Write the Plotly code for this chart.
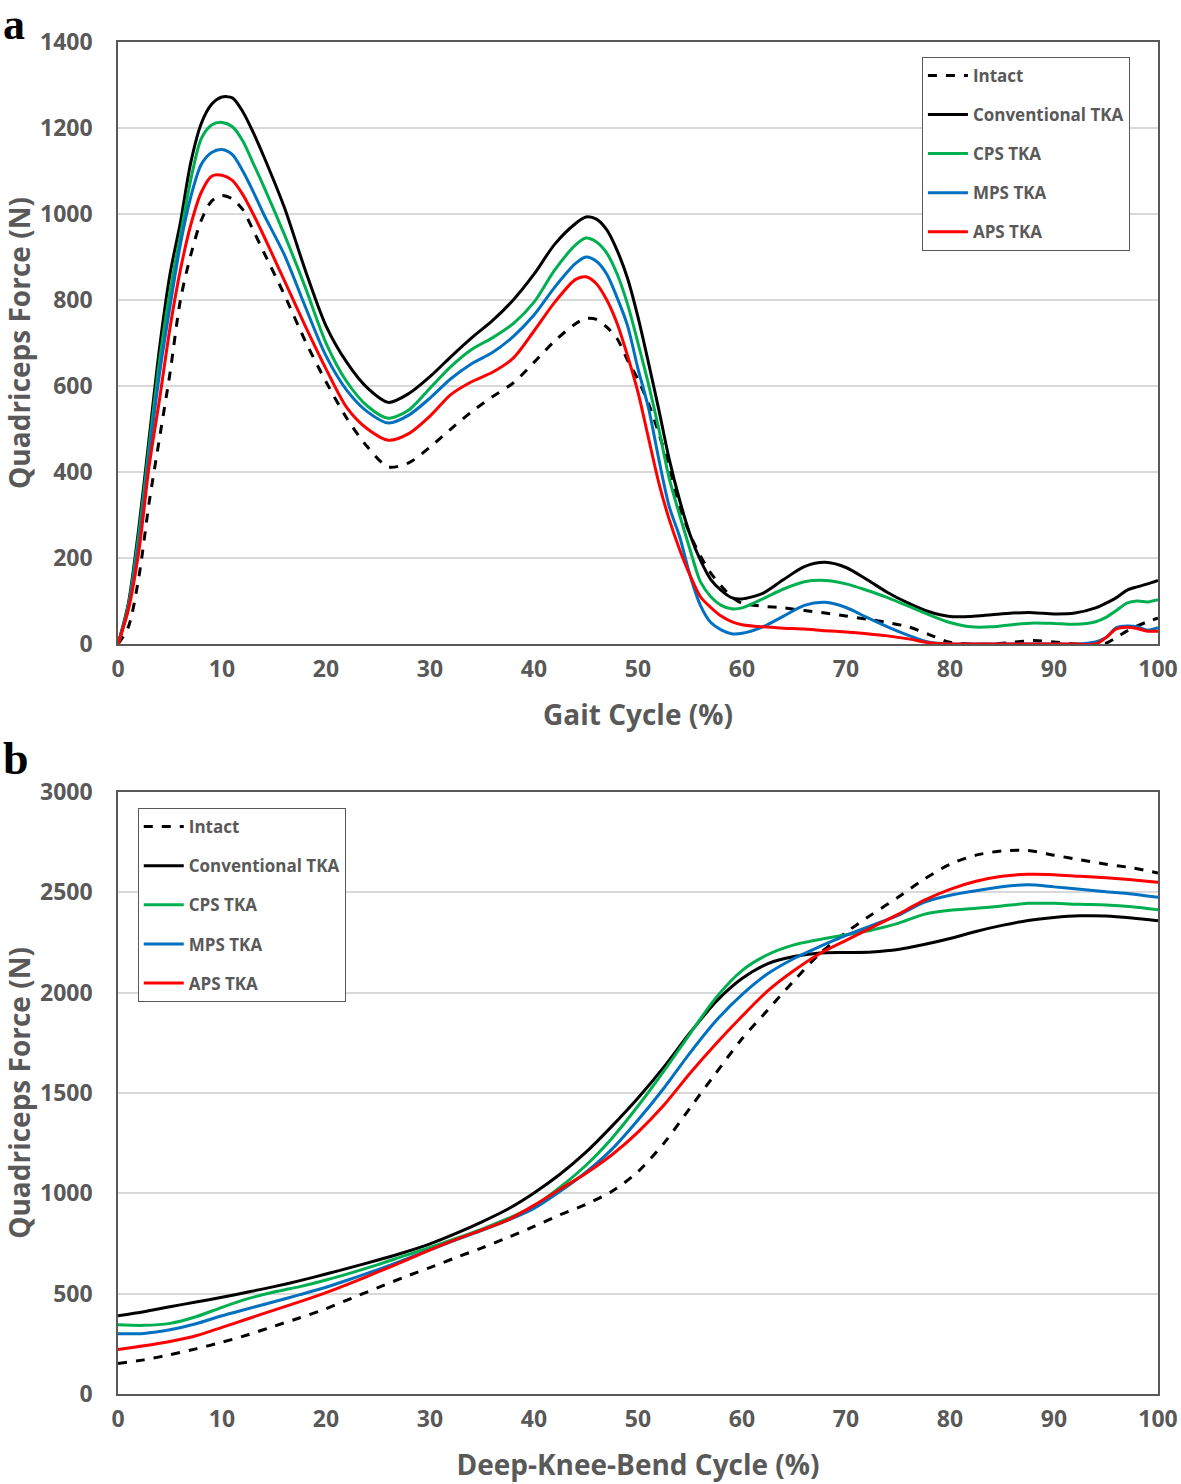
import plotly.graph_objects as go
from plotly.subplots import make_subplots

# ---- panel a: gait cycle ----
GAIT_X = [0, 1, 2, 3, 4, 5, 6, 7, 8, 9, 10, 11, 12, 13, 14,
          16, 18, 20, 22, 24, 26, 28, 30, 32, 34, 36, 38, 40, 42, 44,
          45, 46, 47, 48, 49, 50, 51, 52, 53, 54, 55, 56, 57, 58, 59, 60,
          62, 64, 66, 68, 70, 72, 74, 76, 78, 80, 82, 84, 86, 88, 90, 92, 94,
          95, 96, 97, 98, 99, 100]
GAIT_INTACT = [0, 40, 155, 330, 480, 630, 800, 905, 985, 1030, 1043, 1035, 1010, 962, 912,
               812, 705, 610, 525, 458, 412, 422, 458, 500, 540, 575, 607, 655, 705, 745,
               757, 755, 737, 710, 660, 615, 560, 490, 412, 320, 255, 205, 165, 135, 110, 95,
               88, 84, 78, 72, 65, 58, 50, 40, 22, 4, 0, 0, 4, 8, 5, 0, 0,
               2, 15, 30, 42, 52, 60]
GAIT_CONV = [0, 95, 270, 480, 690, 860, 980, 1120, 1210, 1255, 1272, 1270, 1238, 1190, 1135,
             1015, 870, 740, 655, 595, 562, 583, 622, 668, 712, 752, 800, 860, 930, 978,
             993, 988, 963, 915, 850, 760, 655, 545, 430, 335, 255, 195, 150, 125, 108, 105,
             118, 150, 180, 190, 178, 150, 120, 95, 75, 64, 64, 68, 72, 73, 70, 72, 84,
             95, 108, 125, 133, 140, 148]
GAIT_CPS = [0, 90, 255, 460, 660, 820, 950, 1080, 1175, 1207, 1213, 1203, 1170, 1118, 1065,
            952, 830, 700, 610, 553, 525, 545, 595, 645, 685, 712, 745, 795, 870, 928,
            944, 935, 909, 860, 790, 700, 605, 500, 385, 300, 220, 145, 110, 90, 82, 84,
            105, 128, 145, 148, 140, 125, 108, 88, 68, 50, 40, 40, 45, 49, 48, 46, 52,
            62, 78, 95, 100, 98, 103]
GAIT_MPS = [0, 85, 235, 440, 630, 785, 930, 1040, 1115, 1143, 1150, 1138, 1100, 1052, 1000,
            905, 785, 670, 590, 540, 514, 533, 572, 617, 652, 678, 715, 765, 830, 885,
            900, 890, 860, 805, 740, 640, 550, 430, 320, 250, 160, 90, 50, 33, 24, 25,
            40, 65, 90, 97, 85, 62, 40, 20, 4, 0, 0, 0, 0, 0, 0, 0, 5,
            15, 38, 42, 40, 32, 38]
GAIT_APS = [0, 80, 215, 415, 570, 735, 870, 975, 1050, 1088, 1090, 1078, 1045, 1000, 950,
            845, 740, 640, 550, 500, 474, 490, 530, 580, 610, 632, 665, 728, 795, 848,
            854, 838, 800, 745, 670, 585, 480, 375, 290, 220, 160, 110, 85, 65, 52, 45,
            40, 37, 35, 31, 28, 24, 19, 12, 3, 0, 0, 0, 0, 0, 0, 0, 0,
            15, 35, 39, 36, 30, 30]

# ---- panel b: deep knee bend ----
DKB_X = [0, 2.5, 5, 7.5, 10, 12.5, 15, 17.5, 20, 22.5, 25, 27.5, 30, 32.5, 35, 37.5,
         40, 42.5, 45, 47.5, 50, 52.5, 55, 57.5, 60, 62.5, 65, 67.5, 70, 72.5, 75, 77.5,
         80, 82.5, 85, 87.5, 90, 92.5, 95, 97.5, 100]
DKB_INTACT = [152, 170, 196, 225, 258, 295, 338, 380, 425, 478, 530, 582, 630, 680, 728, 780,
              835, 893, 945, 1010, 1108, 1250, 1425, 1600, 1770, 1915, 2060, 2195, 2300, 2390, 2475, 2565,
              2640, 2685, 2706, 2708, 2685, 2662, 2640, 2622, 2596]
DKB_CONV = [390, 410, 435, 458, 482, 508, 535, 565, 598, 632, 668, 705, 748, 800, 858, 922,
            1002, 1095, 1205, 1335, 1475, 1630, 1800, 1955, 2070, 2145, 2180, 2197, 2200, 2203, 2215, 2240,
            2270, 2305, 2335, 2360, 2375, 2383, 2382, 2372, 2358]
DKB_CPS = [345, 342, 352, 385, 432, 475, 508, 535, 568, 605, 645, 688, 730, 775, 822, 875,
           935, 1030, 1140, 1275, 1435, 1610, 1795, 1975, 2110, 2190, 2238, 2265, 2288, 2312, 2345, 2390,
           2410, 2420, 2432, 2445, 2445, 2440, 2437, 2428, 2413]
DKB_MPS = [300, 302, 320, 350, 390, 425, 460, 495, 532, 575, 620, 668, 718, 768, 815, 866,
           925, 1010, 1105, 1220, 1365, 1525, 1700, 1860, 1990, 2095, 2170, 2230, 2285, 2335, 2385, 2450,
           2485, 2508, 2528, 2537, 2527, 2515, 2503, 2492, 2475]
DKB_APS = [222, 240, 262, 290, 332, 375, 418, 460, 505, 555, 608, 662, 718, 770, 818, 868,
           940, 1020, 1100, 1192, 1305, 1440, 1598, 1745, 1882, 2010, 2110, 2195, 2260, 2325, 2390, 2460,
           2515, 2555, 2580, 2590, 2588, 2580, 2573, 2563, 2550]

NAMES = ["Intact", "Conventional TKA", "CPS TKA", "MPS TKA", "APS TKA"]
COLORS = ["#000000", "#000000", "#00B050", "#0070C0", "#FF0000"]
DASHES = ["dash", "solid", "solid", "solid", "solid"]

GREY = "#595959"
FONT = "Open Sans"

fig = make_subplots(rows=2, cols=1, vertical_spacing=0.1)

panels = [
    (1, "legend", GAIT_X, [GAIT_INTACT, GAIT_CONV, GAIT_CPS, GAIT_MPS, GAIT_APS]),
    (2, "legend2", DKB_X, [DKB_INTACT, DKB_CONV, DKB_CPS, DKB_MPS, DKB_APS]),
]
for row, leg, xs, series in panels:
    for i, ys in enumerate(series):
        fig.add_trace(go.Scatter(
            x=xs, y=ys,
            name=NAMES[i],
            mode="lines",
            line=dict(color=COLORS[i], width=3, dash=DASHES[i], shape="spline", smoothing=0.8),
            legend=leg,
            legendgroup=f"{leg}{i}",
        ), row=row, col=1)

axis_font = dict(family=FONT, size=23, color=GREY, weight="bold")
title_font = dict(family=FONT, size=28, color=GREY, weight="bold")

for row in (1, 2):
    fig.update_xaxes(range=[0, 100], dtick=10, showgrid=False, showline=True, mirror=True,
                     linecolor=GREY, linewidth=1.5, ticks="", tickfont=axis_font,
                     ticklabelstandoff=4, zeroline=False, automargin=False, row=row, col=1)
    fig.update_yaxes(showgrid=True, gridcolor="#D9D9D9", gridwidth=1.5, showline=True, mirror=True,
                     linecolor=GREY, linewidth=1.5, ticks="", tickfont=axis_font,
                     ticklabelstandoff=19, zeroline=False, automargin=False, row=row, col=1,
                     title=dict(text="Quadriceps Force (N)", font=title_font, standoff=4))

fig.update_yaxes(range=[0, 1400], dtick=200, row=1, col=1)
fig.update_yaxes(range=[0, 3000], dtick=500, row=2, col=1)
fig.update_xaxes(title=dict(text="Gait Cycle (%)", font=title_font, standoff=22), row=1, col=1)
fig.update_xaxes(title=dict(text="Deep-Knee-Bend Cycle (%)", font=title_font, standoff=22), row=2, col=1)

legend_style = dict(
    font=dict(family=FONT, size=17, color=GREY, weight="bold"),
    bordercolor=GREY, borderwidth=1, bgcolor="white",
    xanchor="left", yanchor="top", traceorder="grouped", tracegroupgap=14,
    itemwidth=40,
)

fig.update_layout(
    width=1181, height=1484,
    margin=dict(l=118, r=23, t=42, b=90),
    plot_bgcolor="white", paper_bgcolor="white",
    yaxis=dict(domain=[0.5547, 1.0]),
    yaxis2=dict(domain=[0.0, 0.4453]),
    legend=dict(x=0.773, y=0.989, **legend_style),
    legend2=dict(x=0.019, y=0.4334, **legend_style),
    annotations=[
        dict(text="a", x=-0.1125, y=1.0133, xref="paper", yref="paper", xanchor="left", yanchor="middle",
             showarrow=False, font=dict(family="Liberation Serif", size=44, color="black", weight="bold")),
        dict(text="b", x=-0.1125, y=0.470, xref="paper", yref="paper", xanchor="left", yanchor="middle",
             showarrow=False, font=dict(family="Liberation Serif", size=46, color="black", weight="bold")),
    ],
)

# drop the default page margin so the figure sits at the window's corner
fig.write_html("out.html", config={"displayModeBar": False},
               post_script="document.body.style.margin = '0px';")
